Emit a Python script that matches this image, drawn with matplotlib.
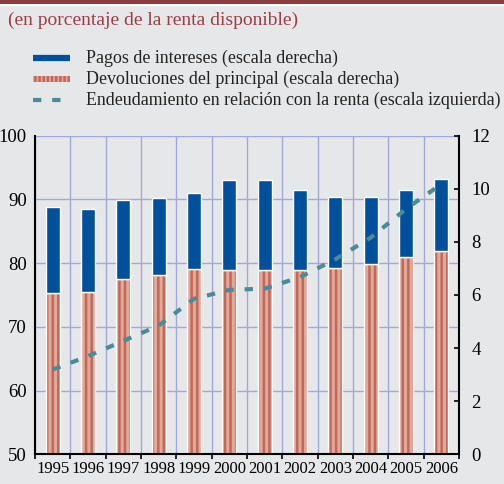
import matplotlib
matplotlib.use("Agg")
import matplotlib.pyplot as plt
import numpy as np
from matplotlib.lines import Line2D
from matplotlib.patches import Rectangle

years = ['1995', '1996', '1997', '1998', '1999', '2000',
         '2001', '2002', '2003', '2004', '2005', '2006']
principal = [6.06, 6.10, 6.59, 6.75, 6.97, 6.95, 6.93, 6.93, 7.00, 7.17, 7.43, 7.64]
interest = [3.24, 3.15, 2.98, 2.90, 2.87, 3.38, 3.41, 3.03, 2.68, 2.52, 2.53, 2.74]
debt = [63.3, 65.4, 67.8, 70.2, 74.4, 75.8, 76.0, 77.8, 80.6, 84.0, 88.5, 92.4]
left_ticks = [50, 60, 70, 80, 90, 100]
right_ticks = [0, 2, 4, 6, 8, 10, 12]

title = "(en porcentaje de la renta disponible)"
leg_labels = ["Pagos de intereses (escala derecha)",
              "Devoluciones del principal (escala derecha)",
              "Endeudamiento en relación con la renta (escala izquierda)"]

BG = "#e6e7e9"
BLUE = "#00509c"
RED_DARK = "#c0695a"
RED_LIGHT = "#e3a898"
TEAL = "#4b8b98"
GRID = "#9fa9d9"
TITLE_C = "#9b4046"

plt.rcParams['font.family'] = ['Liberation Serif', 'DejaVu Serif']
plt.rcParams['hatch.linewidth'] = 1.8

W, H = 504, 484
fig = plt.figure(figsize=(W / 100, H / 100), dpi=100, facecolor=BG)

# top band
fig.patches.append(Rectangle((0, 1 - 3.5 / H), 1, 3.5 / H, transform=fig.transFigure,
                             facecolor="#8e3b40", edgecolor="none"))
fig.patches.append(Rectangle((0, 1 - 5.5 / H), 1, 2 / H, transform=fig.transFigure,
                             facecolor="white", edgecolor="none"))

fig.text(8 / W, 1 - 20 / H, title, color=TITLE_C, fontsize=14, va="center", ha="left")

# legend (manual)
ys = [58, 79, 100]
fig.lines.append(Line2D([33 / W, 70 / W], [1 - ys[0] / H] * 2, transform=fig.transFigure,
                        color=BLUE, lw=4.5, solid_capstyle="butt"))
fig.patches.append(Rectangle((33 / W, 1 - (ys[1] + 2.5) / H), 37 / W, 5 / H,
                             transform=fig.transFigure, facecolor=RED_LIGHT,
                             edgecolor=RED_DARK, hatch="||||", lw=0))
fig.lines.append(Line2D([33 / W, 70 / W], [1 - ys[2] / H] * 2, transform=fig.transFigure,
                        color=TEAL, lw=3, dashes=(2.0, 2.6)))
for y, lab in zip(ys, leg_labels):
    fig.text(86 / W, 1 - y / H, lab, fontsize=12.9, va="center", ha="left", color="#222222")

pos = [35 / W, 29.7 / H, (459 - 35) / W, (454.3 - 135.7) / H]
ax = fig.add_axes(pos)
ax.set_facecolor(BG)
x = np.arange(len(years))
ax.set_xlim(-0.5, len(years) - 0.5)
ax.set_ylim(50, 100)

# grid
ax.set_yticks(left_ticks)
ax.set_xticks(x)
ax.set_xticks(np.arange(len(years) + 1) - 0.5, minor=True)
ax.grid(True, which="major", axis="y", color=GRID, lw=1.0)
ax.grid(True, which="minor", axis="x", color=GRID, lw=1.0)
ax.set_axisbelow(True)
ax.set_xticklabels(years, fontsize=12)
ax.tick_params(axis="x", which="major", length=0, pad=5)
ax.tick_params(axis="x", which="minor", length=3.5, width=1.3, direction="out", color="#111111")
ax.tick_params(axis="y", length=0, pad=6, labelsize=13.5)
for s in ["top", "right", "bottom"]:
    ax.spines[s].set_visible(False)
ax.spines["left"].set_linewidth(1.5)

# bars on right scale
ax2 = ax.twinx()
ax2.set_ylim(0, 12)
ax2.bar(x, principal, width=0.4, color=RED_LIGHT, edgecolor=RED_DARK, hatch="|||", lw=0, zorder=2)
ax2.bar(x, principal, width=0.4, fill=False, edgecolor="white", lw=1.0, zorder=3)
ax2.bar(x, interest, bottom=principal, width=0.4, color=BLUE, edgecolor="white", lw=1.0, zorder=3)
ax2.set_yticks(right_ticks)
ax2.tick_params(axis="y", direction="in", length=3.5, width=1.3, pad=9, labelsize=13.5, color="#111111")
for s in ["top", "left"]:
    ax2.spines[s].set_visible(False)
ax2.spines["right"].set_linewidth(1.5)
ax2.spines["bottom"].set_linewidth(1.5)
ax2.spines["bottom"].set_zorder(5)

# line on left scale, drawn on top
ax3 = fig.add_axes(pos, sharex=ax, sharey=ax)
ax3.patch.set_visible(False)
ax3.axis("off")
ax3.plot(x, debt, color=TEAL, lw=3, dashes=(2.0, 2.6))

fig.savefig("out.png", dpi=100, facecolor=BG)
